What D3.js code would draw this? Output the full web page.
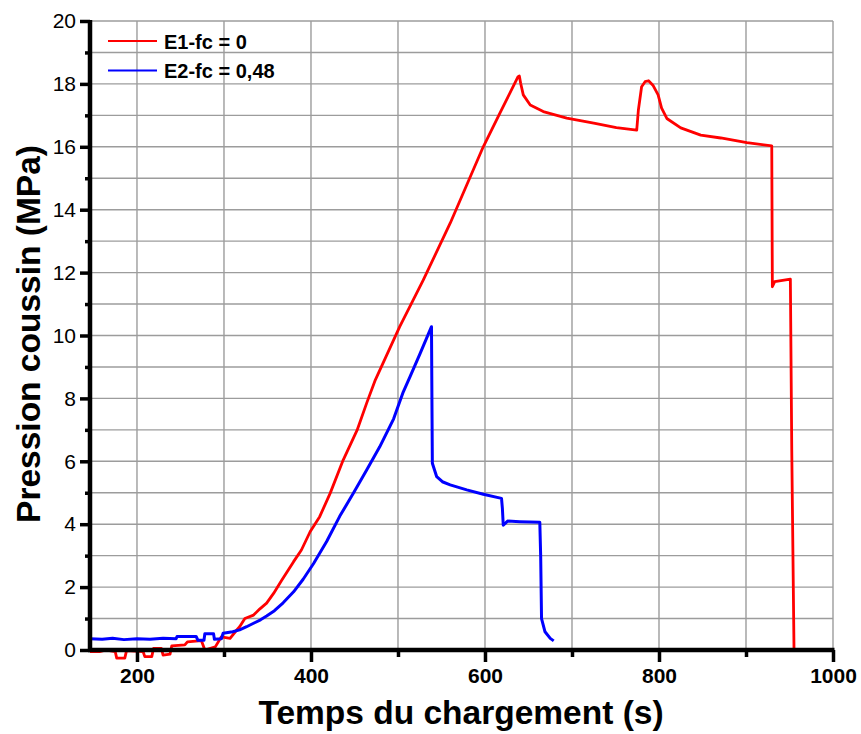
<html>
  <head>
    <title>Pression coussin</title>
    <meta charset="utf-8" />
    <script src="https://cdnjs.cloudflare.com/ajax/libs/d3/7.6.1/d3.min.js"></script>
    <style>
      body { margin: 0; background: #fff; }
      svg { font-family: "Liberation Sans", Arial, sans-serif; }
    </style>
  </head>
  <body>
    <svg width="861" height="734"></svg>
  </body>

  <script>
    // E1-fc = 0 (red)
    let e1Time = [146, 157, 165, 175, 176.7, 186, 188, 207, 209, 217, 219, 228, 230, 238, 240, 255, 258, 274, 278, 290,
      297, 307, 313, 318, 324, 334, 341, 349, 357, 366, 380, 389, 399, 410, 422, 437, 453, 464, 474, 502,
      529, 560, 598, 617, 638, 639.5, 641, 644, 652, 667, 694, 725, 751, 774.4, 776.3, 780, 784, 788, 793, 799,
      803, 809, 825, 848, 871, 901, 929.6, 930.3, 933, 951, 952.6, 955.2];
    let e1Press = [-0.05, -0.05, 0, -0.05, -0.26, -0.26, -0.02, -0.05, -0.21, -0.21, 0.05, 0.05, -0.16, -0.13, 0.13, 0.16, 0.26, 0.3, 0, 0.1,
      0.42, 0.37, 0.58, 0.74, 1.0, 1.11, 1.3, 1.49, 1.8, 2.2, 2.81, 3.18, 3.76, 4.24, 4.98, 6.04, 6.99, 7.85, 8.59, 10.28,
      11.76, 13.57, 16.0, 17.06, 18.23, 18.25, 18.02, 17.65, 17.33, 17.12, 16.91, 16.75, 16.61, 16.53, 17.17, 17.91, 18.07, 18.1, 17.96, 17.65,
      17.23, 16.9, 16.6, 16.37, 16.28, 16.13, 16.03, 11.55, 11.71, 11.79, 6.36, 0];

    // E2-fc = 0,48 (blue)
    let e2Time = [146, 160, 172, 185, 200, 215, 230, 245, 246, 268, 270, 277, 278, 288, 289, 297, 299, 310, 318, 326,
      334, 342, 349, 358, 368, 380, 391, 403, 418, 433, 449, 464, 479, 495, 506, 514, 525, 538.5, 539, 539.5,
      544.5, 551, 560, 579, 598, 619, 620, 621, 626, 640, 652, 663, 664, 665, 669, 675, 679];
    let e2Press = [0.36, 0.34, 0.37, 0.33, 0.36, 0.34, 0.37, 0.36, 0.43, 0.43, 0.31, 0.31, 0.52, 0.52, 0.34, 0.36, 0.53, 0.58, 0.64, 0.74,
      0.85, 0.96, 1.08, 1.25, 1.5, 1.85, 2.25, 2.75, 3.45, 4.25, 5.0, 5.72, 6.46, 7.35, 8.2, 8.7, 9.4, 10.28, 8.0, 5.94,
      5.51, 5.35, 5.25, 5.09, 4.95, 4.82, 4.5, 3.97, 4.1, 4.08, 4.07, 4.06, 3.0, 1.0, 0.58, 0.37, 0.29];

    let seriesNames = ["E1-fc = 0", "E2-fc = 0,48"];
    let seriesColors = ["#ff0000", "#0000ff"];
    let xMajor = [200, 400, 600, 800, 1000];
    let xMinor = [300, 500, 700, 900];
    let yMajor = [0, 2, 4, 6, 8, 10, 12, 14, 16, 18, 20];
    let yMinor = [1, 3, 5, 7, 9, 11, 13, 15, 17, 19];

    let svg = d3.select("svg");
    let xScale = d3.scaleLinear().domain([146, 1000]).range([90, 833]);
    let yScale = d3.scaleLinear().domain([0, 20]).range([650, 21]);

    // grid
    let grid = svg.append("g").attr("stroke", "#9c9c9c").attr("stroke-width", 1.4);
    grid.selectAll("line.v")
      .data(xMajor.concat(xMinor))
      .enter()
      .append("line")
      .attr("x1", (d) => xScale(d))
      .attr("x2", (d) => xScale(d))
      .attr("y1", yScale(0))
      .attr("y2", yScale(20));
    grid.selectAll("line.h")
      .data(yMajor.concat(yMinor).filter((d) => d > 0))
      .enter()
      .append("line")
      .attr("x1", xScale(146))
      .attr("x2", xScale(1000))
      .attr("y1", (d) => yScale(d))
      .attr("y2", (d) => yScale(d));

    // data lines
    let line = d3.line().x((d) => xScale(d[0])).y((d) => yScale(d[1]));
    let series = [
      d3.zip(e1Time, e1Press),
      d3.zip(e2Time, e2Press),
    ];
    svg.selectAll("path.serie")
      .data(series)
      .enter()
      .append("path")
      .attr("class", "serie")
      .attr("fill", "none")
      .attr("stroke", (d, i) => seriesColors[i])
      .attr("stroke-width", (d, i) => (i == 0 ? 2.8 : 3))
      .attr("stroke-linejoin", "round")
      .attr("d", line);

    // axes
    let xAxis = svg.append("g").attr("transform", `translate(0,${yScale(0)})`);
    xAxis.call(d3.axisBottom(xScale).tickValues(xMinor).tickSize(7).tickFormat(""));
    xAxis.call((g) => g.selectAll(".tick line").attr("stroke-width", 3.5));
    let xAxisMajor = svg.append("g").attr("transform", `translate(0,${yScale(0)})`);
    xAxisMajor.call(d3.axisBottom(xScale).tickValues(xMajor).tickSize(12).tickPadding(6).tickFormat(d3.format("d")));
    xAxisMajor.selectAll(".tick line").attr("stroke-width", 3.5);
    xAxisMajor.selectAll(".tick text")
      .attr("font-size", 21)
      .attr("font-weight", "bold")
      .attr("fill", "#000")
      .attr("font-family", "Liberation Sans, Arial, sans-serif");
    svg.selectAll(".domain").remove();

    let yAxis = svg.append("g").attr("transform", `translate(${xScale(146)},0)`);
    yAxis.call(d3.axisLeft(yScale).tickValues(yMinor).tickSize(5).tickFormat(""));
    yAxis.selectAll(".tick line").attr("stroke-width", 3.5);
    let yAxisMajor = svg.append("g").attr("transform", `translate(${xScale(146)},0)`);
    yAxisMajor.call(d3.axisLeft(yScale).tickValues(yMajor).tickSize(10).tickPadding(4).tickFormat(d3.format("d")));
    yAxisMajor.selectAll(".tick line").attr("stroke-width", 3.5);
    yAxisMajor.selectAll(".tick text")
      .attr("font-size", 21)
      .attr("fill", "#000")
      .attr("font-family", "Liberation Sans, Arial, sans-serif");
    svg.selectAll(".domain").remove();

    // thick axis lines
    svg.append("line")
      .attr("x1", xScale(146)).attr("x2", xScale(146))
      .attr("y1", yScale(20) - 1).attr("y2", yScale(0) + 2)
      .attr("stroke", "#000").attr("stroke-width", 4.5);
    svg.append("line")
      .attr("x1", xScale(146) - 2).attr("x2", xScale(1000) + 1.5)
      .attr("y1", yScale(0)).attr("y2", yScale(0))
      .attr("stroke", "#000").attr("stroke-width", 4.5);

    // axis titles
    svg.append("text")
      .attr("x", 461)
      .attr("y", 724)
      .attr("text-anchor", "middle")
      .attr("font-size", 33.5)
      .attr("font-weight", "bold")
      .text("Temps du chargement (s)");
    svg.append("text")
      .attr("transform", "translate(40,334) rotate(-90)")
      .attr("text-anchor", "middle")
      .attr("font-size", 33.5)
      .attr("font-weight", "bold")
      .text("Pression coussin (MPa)");

    // legend
    let legend = svg.selectAll("g.legend")
      .data(seriesNames)
      .enter()
      .append("g")
      .attr("class", "legend")
      .attr("transform", (d, i) => `translate(108,${41 + i * 29.5})`);
    legend.append("line")
      .attr("x1", 0).attr("x2", 49)
      .attr("stroke", (d, i) => seriesColors[i])
      .attr("stroke-width", 2);
    legend.append("text")
      .attr("x", 56)
      .attr("y", 7.5)
      .attr("font-size", 20)
      .attr("font-weight", "bold")
      .text((d) => d);
  </script>
</html>
